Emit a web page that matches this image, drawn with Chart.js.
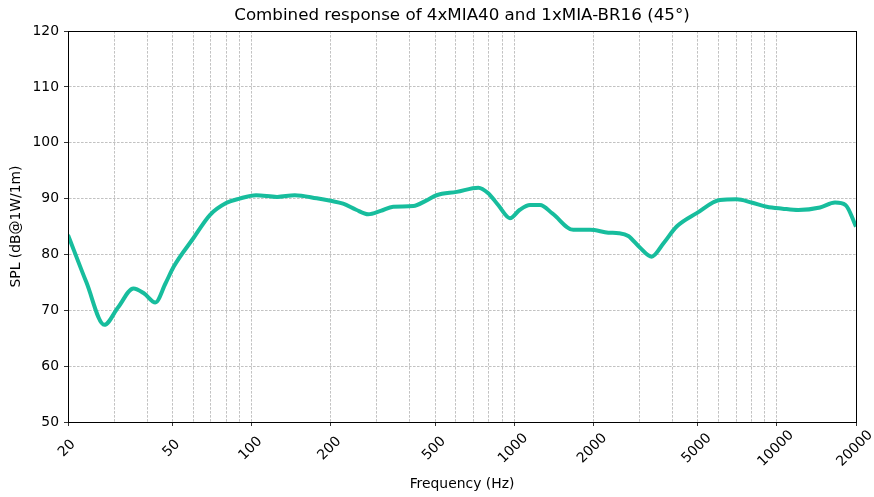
<!DOCTYPE html>
<html>
<head>
<meta charset="utf-8">
<script src="https://cdn.jsdelivr.net/npm/chart.js@4/dist/chart.umd.min.js"></script>
<style>
html,body{margin:0;padding:0;background:#fff;}
#wrap{width:874px;height:497px;position:relative;}
</style>
</head>
<body>
<div id="wrap"><canvas id="c" width="874" height="497"></canvas></div>
<script>
// Frequency (Hz) and SPL (dB)
const freqs = [20, 23.5, 27.5, 31, 35.5, 39, 43, 47, 50.5, 60, 69.5, 80, 90, 104, 125, 146, 177, 200, 223, 250, 278, 310, 346, 413, 460, 506, 604, 730, 796, 870, 963, 1050, 1148, 1253, 1400, 1677, 1943, 2281, 2500, 2717, 3000, 3335, 3700, 4153, 4950, 6070, 7025, 8000, 9143, 10500, 12060, 14590, 16640, 18260, 20000];
const spl = [83.5, 75.0, 67.4, 70.5, 73.9, 73.0, 71.4, 74.8, 77.8, 82.9, 87.1, 89.2, 90.0, 90.6, 90.3, 90.6, 90.05, 89.6, 89.1, 88.0, 87.2, 87.8, 88.55, 88.67, 89.6, 90.6, 91.2, 91.95, 90.95, 88.8, 86.5, 88.0, 88.85, 88.85, 87.3, 84.4, 84.4, 83.9, 83.8, 83.3, 81.3, 79.6, 82.0, 85.0, 87.4, 89.75, 89.87, 89.3, 88.55, 88.2, 87.95, 88.4, 89.3, 88.85, 85.0];
const xLabelTicks = [20, 50, 100, 200, 500, 1000, 2000, 5000, 10000, 20000];
const xGridTicks = [20, 30, 40, 50, 60, 70, 80, 90, 100, 200, 300, 400, 500, 600, 700, 800, 900, 1000, 2000, 3000, 4000, 5000, 6000, 7000, 8000, 9000, 10000, 20000];
const yTicks = [50, 60, 70, 80, 90, 100, 110, 120];

const FONT = "'DejaVu Sans', sans-serif";
const points = freqs.map((f, i) => ({x: f, y: spl[i]}));

const framePlugin = {
  id: 'frame',
  afterDraw(chart) {
    const {ctx, chartArea: a} = chart;
    ctx.save();
    ctx.strokeStyle = '#000';
    ctx.lineWidth = 1;
    ctx.strokeRect(Math.round(a.left) + 0.5, Math.round(a.top) + 0.5, Math.round(a.right - a.left), Math.round(a.bottom - a.top));
    ctx.restore();
  }
};

new Chart(document.getElementById('c'), {
  type: 'line',
  data: {
    datasets: [{
      data: points,
      borderColor: '#17bd9d',
      borderWidth: 4,
      pointRadius: 0,
      tension: 0.4,
      cubicInterpolationMode: 'monotone',
      fill: false
    }]
  },
  options: {
    responsive: false,
    animation: false,
    layout: {padding: {left: 4, right: 18, top: 0, bottom: 2}},
    plugins: {
      legend: {display: false},
      tooltip: {enabled: false},
      title: {
        display: true,
        fullSize: false,
        text: 'Combined response of 4xMIA40 and 1xMIA-BR16 (45°)',
        color: '#000',
        font: {family: FONT, size: 16.7, weight: 'normal', lineHeight: 1.2},
        padding: {top: 6, bottom: 5}
      }
    },
    scales: {
      x: {
        type: 'logarithmic',
        min: 20,
        max: 20000,
        afterBuildTicks(scale) {
          scale.ticks = xGridTicks.map(v => ({value: v}));
        },
        afterFit(scale) { scale.height = 73; },
        ticks: {
          autoSkip: false,
          maxRotation: 45,
          minRotation: 45,
          labelOffset: 14.5,
          padding: 1,
          color: '#000',
          font: {family: FONT, size: 13.9},
          // trailing spaces (half a digit wide each) keep every label centred on its tick
          callback(v) {
            if (!xLabelTicks.includes(v)) return '';
            const s = String(v);
            return s + ' '.repeat(5 - s.length);
          }
        },
        grid: {
          color: 'rgba(0,0,0,0.3)',
          lineWidth: 0.8,
          tickLength: 4,
          tickColor: ctx => (ctx.tick && xLabelTicks.includes(ctx.tick.value)) ? '#000' : 'rgba(0,0,0,0)'
        },
        border: {display: true, color: '#000', width: 1, dash: [2.6, 1.4]},
        title: {
          display: true,
          text: 'Frequency (Hz)',
          color: '#000',
          font: {family: FONT, size: 13.9},
          padding: {top: 0, bottom: 2}
        }
      },
      y: {
        min: 50,
        max: 120,
        afterBuildTicks(scale) {
          scale.ticks = yTicks.map(v => ({value: v}));
        },
        afterFit(scale) { scale.width = 64; },
        ticks: {
          color: '#000',
          padding: 5,
          font: {family: FONT, size: 13.9}
        },
        grid: {
          color: 'rgba(0,0,0,0.3)',
          lineWidth: 0.8,
          tickLength: 4,
          tickColor: '#000'
        },
        border: {display: true, color: '#000', width: 1, dash: [2.6, 1.4]},
        title: {
          display: true,
          text: 'SPL (dB@1W/1m)',
          color: '#000',
          font: {family: FONT, size: 13.9},
          padding: {top: 4, bottom: 4}
        }
      }
    }
  },
  plugins: [framePlugin]
});
</script>
</body>
</html>
